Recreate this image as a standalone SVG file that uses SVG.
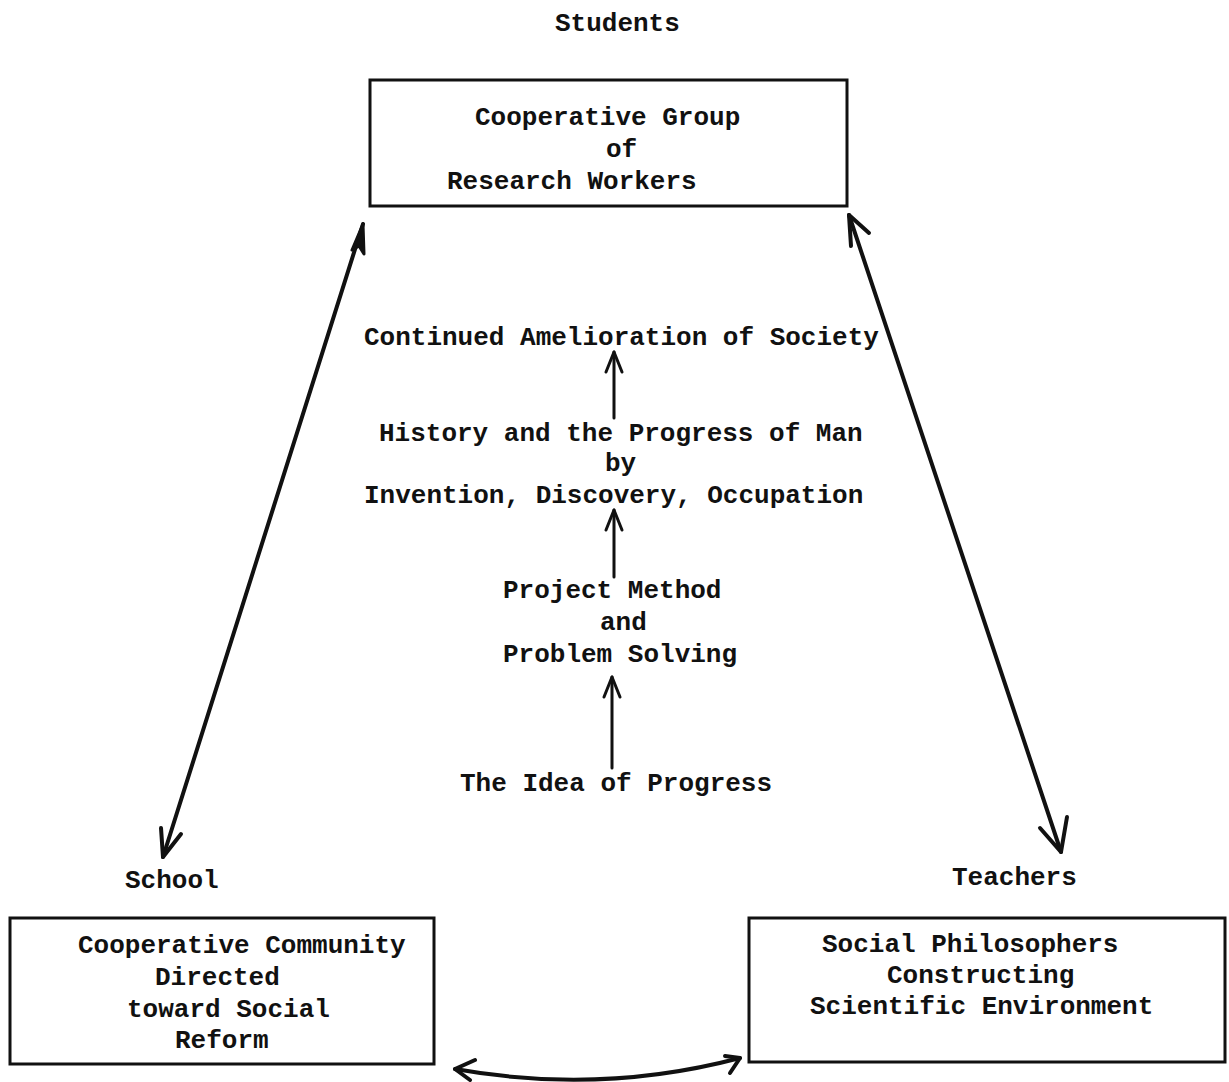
<svg xmlns="http://www.w3.org/2000/svg" width="1229" height="1082" viewBox="0 0 1229 1082">
  <style>
    .t { font-family: "Liberation Mono", "DejaVu Sans Mono", monospace; font-size: 26px; font-weight: bold; fill: #111; }
    .box { fill: none; stroke: #111; stroke-width: 3; }
    .ln { fill: none; stroke: #111; stroke-width: 4; stroke-linecap: round; stroke-linejoin: round; }
    .thin { fill: none; stroke: #111; stroke-width: 3; stroke-linecap: round; stroke-linejoin: round; }
    .head { fill: #111; stroke: #111; stroke-width: 3; stroke-linejoin: round; }
  </style>
  <rect width="1229" height="1082" fill="#fff"/>

  <!-- top node: Students -->
  <g id="students">
    <text class="t" x="555" y="31">Students</text>
    <rect class="box" x="370" y="80" width="477" height="126"/>
    <text class="t" x="475" y="125">Cooperative Group</text>
    <text class="t" x="606" y="157">of</text>
    <text class="t" x="447" y="189">Research Workers</text>
  </g>

  <!-- central chain -->
  <g id="amelioration">
    <text class="t" x="364" y="345">Continued Amelioration of Society</text>
  </g>
  <g id="history">
    <text class="t" x="379" y="441">History and the Progress of Man</text>
    <text class="t" x="605" y="471">by</text>
    <text class="t" x="364" y="503">Invention, Discovery, Occupation</text>
  </g>
  <g id="project">
    <text class="t" x="503" y="598">Project Method</text>
    <text class="t" x="600" y="630">and</text>
    <text class="t" x="503" y="662">Problem Solving</text>
  </g>
  <g id="idea">
    <text class="t" x="460" y="791">The Idea of Progress</text>
  </g>

  <!-- bottom-left node: School -->
  <g id="school">
    <text class="t" x="125" y="888">School</text>
    <rect class="box" x="10" y="918" width="424" height="146"/>
    <text class="t" x="78" y="953">Cooperative Community</text>
    <text class="t" x="155" y="985">Directed</text>
    <text class="t" x="127" y="1017">toward Social</text>
    <text class="t" x="175" y="1048">Reform</text>
  </g>

  <!-- bottom-right node: Teachers -->
  <g id="teachers">
    <text class="t" x="952" y="885">Teachers</text>
    <rect class="box" x="749" y="918" width="476" height="144"/>
    <text class="t" x="822" y="952">Social Philosophers</text>
    <text class="t" x="887" y="983">Constructing</text>
    <text class="t" x="810" y="1014">Scientific Environment</text>
  </g>

  <!-- connectors -->
  <g id="connectors">
    <!-- Students <-> School -->
    <path class="ln" d="M363,224 L163,857"/>
    <path class="head" d="M363,224 L352,250 L359,246 L364,254 Z"/>
    <path class="ln" d="M161,828 L163,857 L181,834"/>
    <!-- Students <-> Teachers -->
    <path class="ln" d="M849,215 L1061,852"/>
    <path class="ln" d="M851,246 L849,215 L869,233"/>
    <path class="ln" d="M1040,828 L1061,852 L1067,817"/>
    <!-- School <-> Teachers -->
    <path class="ln" d="M455,1069 Q600,1095 740,1058"/>
    <path class="ln" d="M475,1060 L455,1069 L470,1080"/>
    <path class="ln" d="M725,1056 L740,1058 L730,1073"/>
    <!-- upward chain -->
    <path class="thin" d="M614,418 L614,352"/>
    <path class="thin" d="M606,372 L614,352 L622,372"/>
    <path class="thin" d="M614,577 L614,510"/>
    <path class="thin" d="M606,530 L614,510 L622,530"/>
    <path class="thin" d="M612,768 L612,677"/>
    <path class="thin" d="M604,697 L612,677 L620,697"/>
  </g>
</svg>
